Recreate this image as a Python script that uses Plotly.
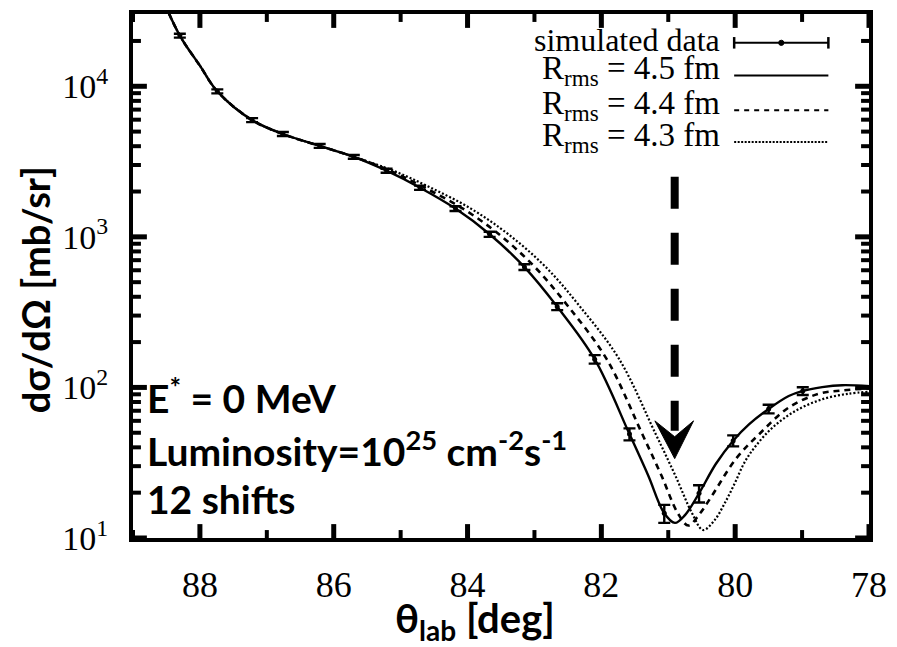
import math
import plotly.graph_objects as go

# simulated data (theta_lab in deg, cross section in mb/sr)
theta_data = [88.30, 87.74, 87.22, 86.76, 86.21, 85.70, 85.21, 84.71, 84.18, 83.67,
              83.15, 82.66, 82.10, 81.58, 81.06, 80.54, 80.03, 79.50, 78.99]
xs_data = [21700, 9250, 5960, 4820, 4020, 3400, 2750, 2120, 1540, 1040,
           630, 344, 154, 49, 14.6, 19.8, 44.3, 72, 94.6]
xs_err = [650, 280, 180, 145, 120, 100, 85, 70, 55, 40,
          28, 18, 10, 4.5, 2.0, 2.6, 3.7, 4.8, 5.6]

# R_rms = 4.5 fm
theta_45 = [88.6, 88.30, 88.0, 87.74, 87.22, 86.76, 86.21, 85.70, 85.21, 84.71,
            84.18, 83.67, 83.15, 82.66, 82.10, 81.58, 81.30, 81.06, 80.90, 80.75,
            80.54, 80.29, 80.03, 79.79, 79.50, 79.20, 79.00, 78.70, 78.40, 78.00]
xs_45 = [42000, 21700, 13700, 9250, 5960, 4820, 4020, 3400, 2750, 2120,
         1540, 1040, 630, 344, 154, 49, 26, 14.6, 12.6, 14.2,
         19.8, 31, 44.3, 57, 72, 87.7, 94.6, 100.5, 103.5, 102]

# R_rms = 4.4 fm
theta_44 = [88.6, 88.30, 88.0, 87.74, 87.22, 86.76, 86.21, 85.70, 85.16, 84.64,
            84.07, 83.53, 82.994, 82.493, 81.92, 81.389, 81.102, 80.857, 80.70, 80.54,
            80.36, 79.99, 79.62, 79.20, 78.75, 78.40, 78.00]
xs_44 = [42000, 21700, 13700, 9250, 5960, 4820, 4020, 3400, 2750, 2120,
         1540, 1040, 630, 344, 154, 49, 26, 14.6, 12.1, 14.3,
         18.7, 33.5, 50, 73.5, 90.8, 95.5, 98.5]

# R_rms = 4.3 fm
theta_43 = [88.6, 88.30, 88.0, 87.74, 87.22, 86.76, 86.21, 85.70, 85.11, 84.55,
            83.95, 83.39, 82.831, 82.319, 81.733, 81.188, 80.895, 80.644, 80.48, 80.31,
            80.16, 80.01, 79.86, 79.69, 79.44, 79.10, 78.70, 78.31, 78.00]
xs_43 = [42000, 21700, 13700, 9250, 5960, 4820, 4020, 3400, 2750, 2120,
         1540, 1040, 630, 344, 154, 49, 26, 14.6, 11.3, 13.1,
         16.9, 22.9, 31.8, 41, 54.2, 69.8, 83.4, 90.8, 93.5]

x_range = [89, 78]
y_range_log = [1, 4.48]
x_tickvals = [88, 86, 84, 82, 80, 78]
x_minorvals = [89, 87, 85, 83, 81, 79]
y_tickvals = [10, 100, 1000, 10000]
y_ticktext = ["10<sup>1</sup>", "10<sup>2</sup>", "10<sup>3</sup>", "10<sup>4</sup>"]
y_minorvals = [d * 10 ** k for k in range(1, 5) for d in range(2, 10) if d * 10 ** k < 30000]

legend_labels = ["simulated data", "R<sub>rms</sub> = 4.5 fm",
                 "R<sub>rms</sub> = 4.4 fm", "R<sub>rms</sub> = 4.3 fm"]
info_lines = ["E<sup>*</sup> = 0 MeV",
              "Luminosity=10<sup>25</sup> cm<sup>-2</sup>s<sup>-1</sup>",
              "12 shifts"]

SERIF = "Liberation Serif"
SANS = "Lato"

# plot area in pixels
PW, PH = 742.5, 528.0

fig = go.Figure()

fig.add_trace(go.Scatter(x=theta_43, y=xs_43, mode="lines", line_shape="spline",
                         line=dict(color="black", width=2.2, dash="2px,2px")))
fig.add_trace(go.Scatter(x=theta_44, y=xs_44, mode="lines", line_shape="spline",
                         line=dict(color="black", width=2.6, dash="6px,5px")))
fig.add_trace(go.Scatter(x=theta_45, y=xs_45, mode="lines", line_shape="spline",
                         line=dict(color="black", width=2.4)))
fig.add_trace(go.Scatter(x=theta_data, y=xs_data, mode="markers",
                         marker=dict(color="black", size=5),
                         error_y=dict(type="data", array=xs_err, visible=True,
                                      color="black", thickness=2.4, width=6)))

shapes = []
annotations = []

# inward ticks on all four sides of the frame
def y_frac(v):
    return (math.log10(v) - y_range_log[0]) / (y_range_log[1] - y_range_log[0])

for vals, ln, w in [(x_tickvals, 14, 5), (x_minorvals, 8, 4)]:
    for v in vals:
        for base, sgn in [(0, 1), (1, -1)]:
            shapes.append(dict(type="line", xref="x", yref="paper", x0=v, x1=v,
                               y0=base, y1=base + sgn * ln / PH, layer="above",
                               line=dict(color="black", width=w)))
for vals, ln, w in [(y_tickvals, 14, 5), (y_minorvals, 8, 4)]:
    for v in vals:
        f = y_frac(v)
        for base, sgn in [(0, 1), (1, -1)]:
            shapes.append(dict(type="line", xref="paper", yref="paper",
                               x0=base, x1=base + sgn * ln / PW, y0=f, y1=f, layer="above",
                               line=dict(color="black", width=w)))

# legend drawn in paper coordinates, samples on the right of the labels
sample_y = [0.945, 0.8826, 0.8163, 0.7557]
label_y = [0.9508, 0.892, 0.8258, 0.7652]
text_right = 0.8007
s0, s1 = 0.8168, 0.9448
for i, (lab, yy) in enumerate(zip(legend_labels, label_y)):
    annotations.append(dict(x=text_right, y=yy, xref="paper", yref="paper",
                            text=lab, showarrow=False, xanchor="right", yanchor="middle",
                            font=dict(family=SERIF, size=32 if i == 0 else 33, color="black")))
# data sample: bar with end caps and a dot
shapes.append(dict(type="line", xref="paper", yref="paper", x0=s0, x1=s1,
                   y0=sample_y[0], y1=sample_y[0], line=dict(color="black", width=2)))
for xe in (s0, s1):
    shapes.append(dict(type="line", xref="paper", yref="paper", x0=xe, x1=xe,
                       y0=sample_y[0] - 0.011, y1=sample_y[0] + 0.011,
                       line=dict(color="black", width=2.5)))
shapes.append(dict(type="circle", xref="paper", yref="paper",
                   x0=(s0 + s1) / 2 - 0.0035, x1=(s0 + s1) / 2 + 0.0035,
                   y0=sample_y[0] - 0.005, y1=sample_y[0] + 0.005,
                   fillcolor="black", line=dict(color="black", width=1)))
for yy, dash, w in [(sample_y[1], "solid", 2.2), (sample_y[2], "5px,5px", 2.2), (sample_y[3], "2px,1.5px", 2.0)]:
    shapes.append(dict(type="line", xref="paper", yref="paper", x0=s0, x1=s1,
                       y0=yy, y1=yy, line=dict(color="black", width=w, dash=dash)))

# dashed arrow pointing at the minimum
shapes.append(dict(type="line", xref="paper", yref="paper", x0=0.736, x1=0.736,
                   y0=0.6894, y1=0.2045, line=dict(color="black", width=8, dash="32px,24px")))
shapes.append(dict(type="path", xref="paper", yref="paper",
                   path="M 0.7091,0.2235 L 0.7360,0.1515 L 0.7616,0.2235 L 0.7360,0.1932 Z",
                   fillcolor="black", line=dict(color="black", width=1)))

for txt, yy in zip(info_lines, [0.2727, 0.1714, 0.0748]):
    annotations.append(dict(x=0.0168, y=yy, xref="paper", yref="paper", text="<b>" + txt + "</b>",
                            showarrow=False, xanchor="left", yanchor="middle",
                            font=dict(family=SANS, size=39, color="black")))

# axis titles
annotations.append(dict(x=(478 - 132.5) / PW, y=(538 - 621) / PH, xref="paper", yref="paper",
                        text="<b>θ<sub>lab</sub> [deg]</b>", showarrow=False,
                        xanchor="center", yanchor="middle",
                        font=dict(family=SANS, size=40, color="black")))
annotations.append(dict(x=(34 - 132.5) / PW, y=(538 - 288) / PH, xref="paper", yref="paper",
                        text="<b>dσ/dΩ [mb/sr]</b>", showarrow=False, textangle=-90,
                        xanchor="center", yanchor="middle",
                        font=dict(family=SANS, size=38, color="black")))

fig.update_layout(
    width=897, height=647,
    margin=dict(l=133, r=22, t=10, b=109),
    paper_bgcolor="white", plot_bgcolor="white",
    showlegend=False,
    shapes=shapes, annotations=annotations,
    xaxis=dict(range=x_range, tickmode="array", tickvals=x_tickvals, ticks="",
               showline=True, linewidth=4, linecolor="black", mirror=True,
               showgrid=False, zeroline=False,
               tickfont=dict(family=SERIF, size=36, color="black"), ticklabelstandoff=12),
    yaxis=dict(type="log", range=y_range_log, tickmode="array", tickvals=y_tickvals,
               ticktext=y_ticktext, ticks="",
               showline=True, linewidth=4, linecolor="black", mirror=True,
               showgrid=False, zeroline=False,
               tickfont=dict(family=SERIF, size=34, color="black"), ticklabelstandoff=14),
)

fig.write_html("out.html")
